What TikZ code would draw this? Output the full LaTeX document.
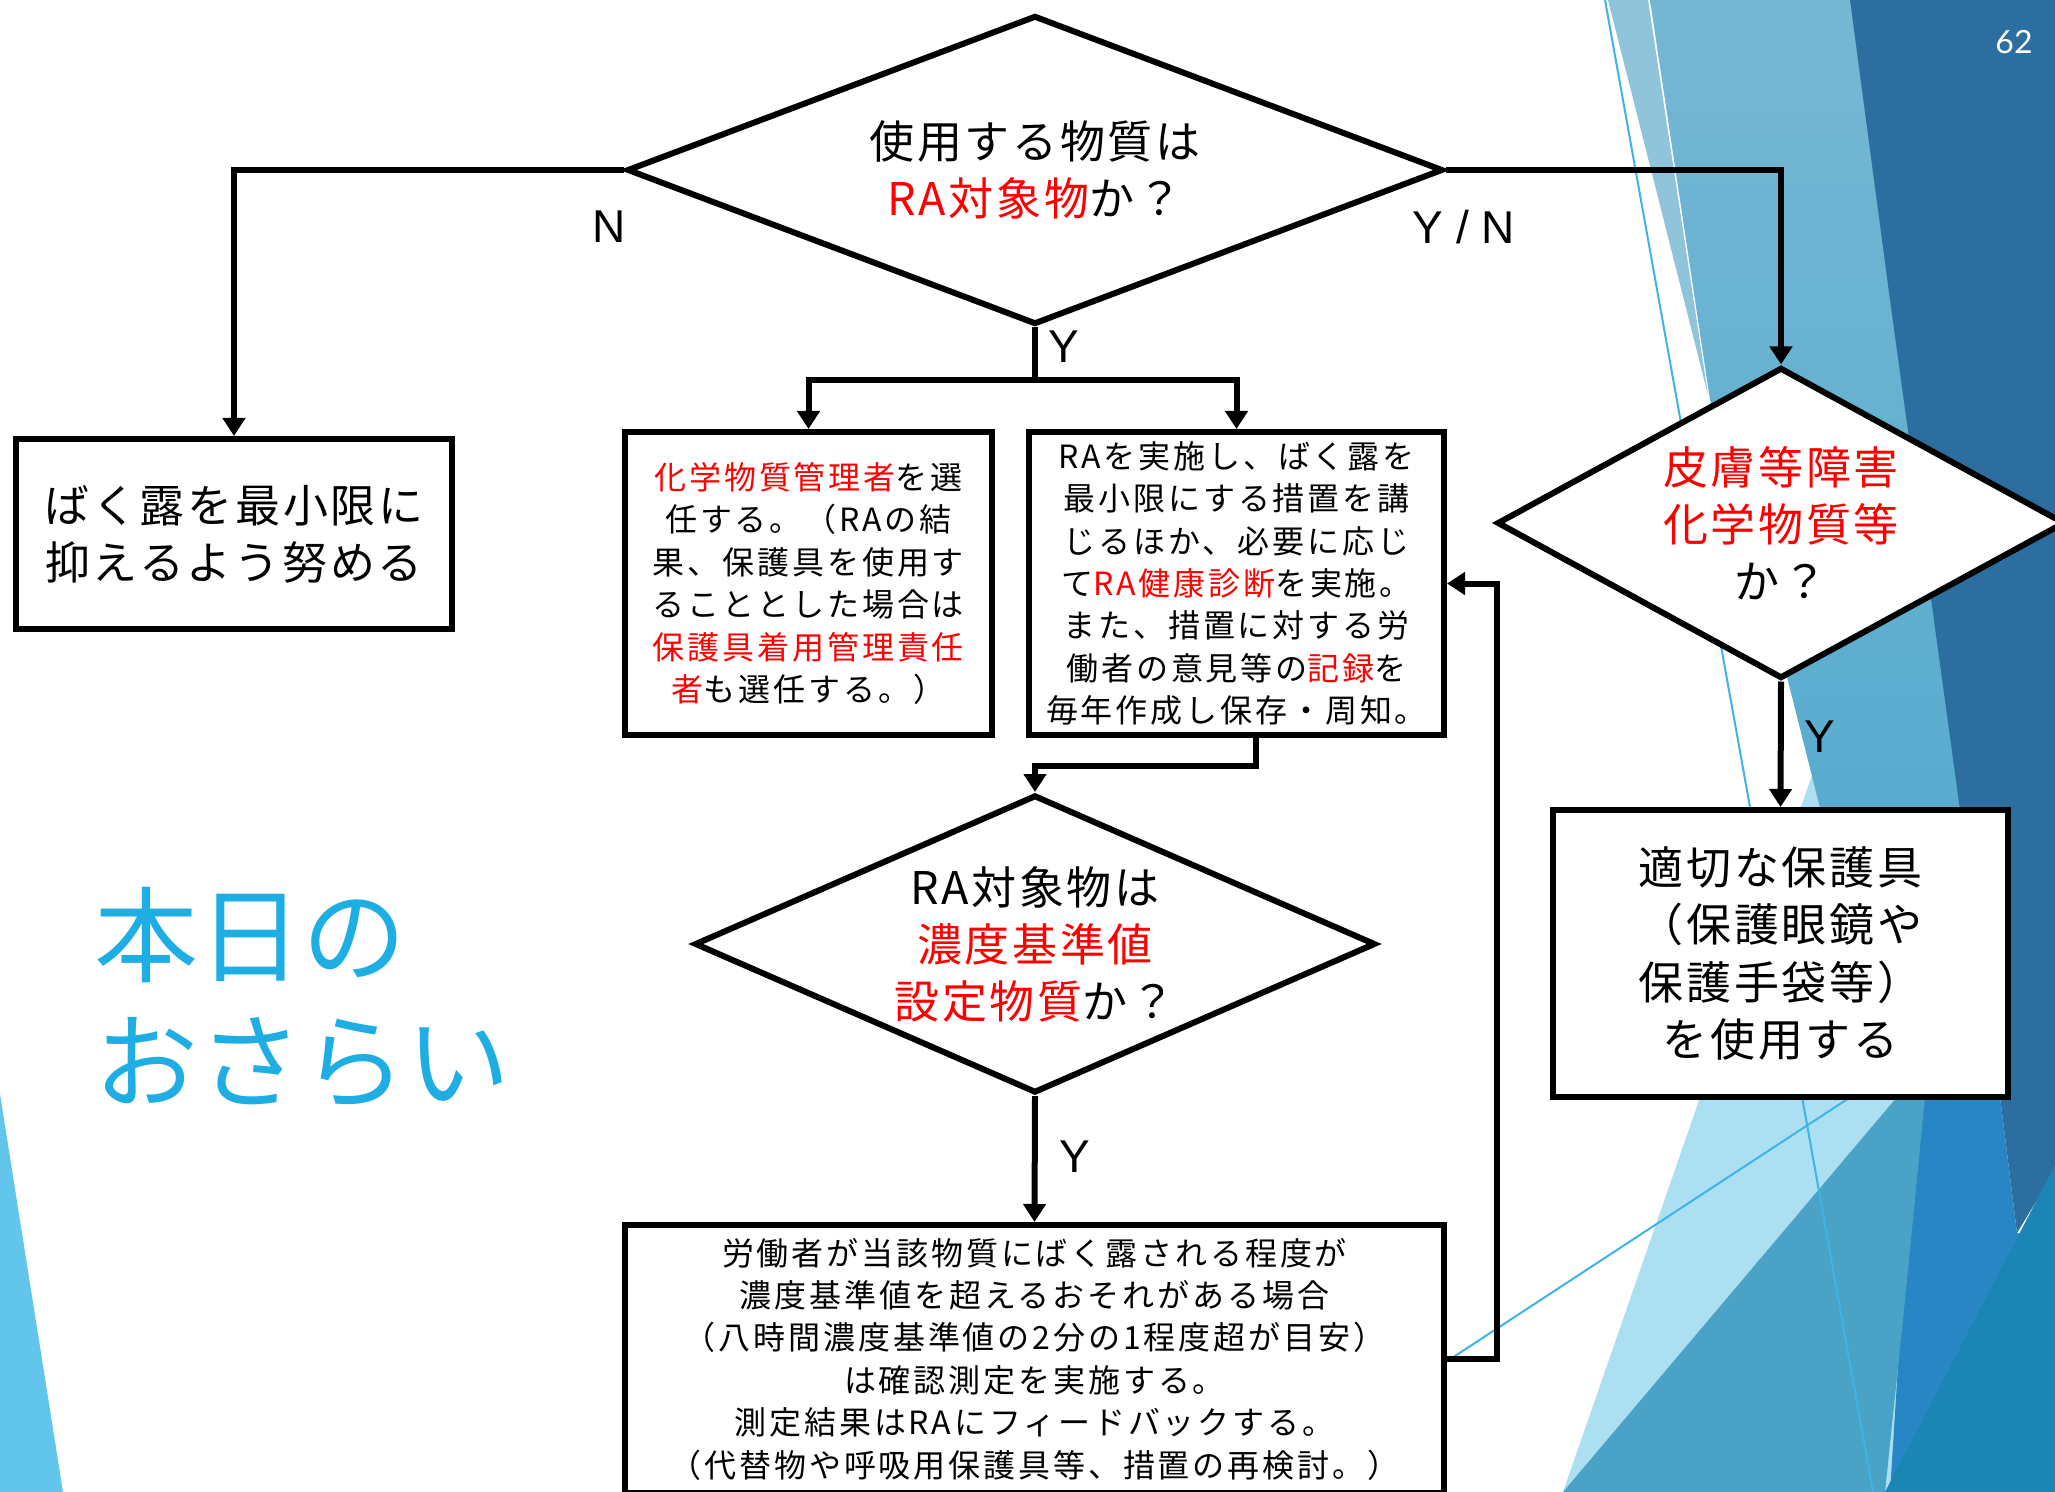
\documentclass[tikz,border=0pt]{standalone}
\usepackage{fontspec}
\setmainfont{Noto Sans CJK JP}
\newfontfamily\jpbig[LetterSpace=6]{Noto Sans CJK JP}
\newfontfamily\jpsmall[LetterSpace=9]{Noto Sans CJK JP}
\newfontfamily\labfont{Liberation Sans}
\newfontfamily\numfont{Lato}
\usetikzlibrary{shapes.geometric,arrows.meta,calc}
\definecolor{redtxt}{HTML}{FF0000}
\definecolor{cyantxt}{HTML}{1FAEE3}
\definecolor{cleft}{HTML}{62C5EC}
\definecolor{clband}{HTML}{ADDFF3}
\definecolor{cmedA}{HTML}{75B7D3}
\definecolor{cmedB}{HTML}{4FA8CE}
\definecolor{cltop}{HTML}{8FC4DB}
\definecolor{cdark}{HTML}{2C6E9F}
\definecolor{cbright}{HTML}{2986C4}
\definecolor{cteal}{HTML}{4AA3C6}
\definecolor{ctealB}{HTML}{1B86B6}
\definecolor{cthin}{HTML}{3FB3E6}
\newcommand{\rd}[1]{\textcolor{redtxt}{#1}}
\tikzset{
  flow/.style={line width=3pt, draw=black},
  arr/.style={line width=3pt, draw=black, -{Triangle[length=9pt,width=11pt]}},
  box/.style={draw=black, line width=3pt, fill=white, rectangle, align=center, inner sep=0pt},
  dia/.style={draw=black, line width=3pt, fill=white, diamond, align=center, inner sep=0pt},
  bigtxt/.style={font=\jpbig\fontsize{22.5}{28.5}\selectfont},
  smalltxt/.style={font=\jpsmall\fontsize{16}{21.2}\selectfont},
  lbl/.style={font=\labfont\fontsize{23}{23}\selectfont, inner sep=0pt},
}
\begin{document}
\begin{tikzpicture}[x=0.5pt,y=-0.5pt]
\useasboundingbox (0,0) rectangle (2055,1492);
% ---------- background ----------
\fill[white] (0,0) rectangle (2055,1492);
\fill[cleft] (0,1094) -- (63,1492) -- (0,1492) -- cycle;
\fill[clband] (1563,1492) -- (1845,680) -- (1960,1100) -- (1905,1492) -- cycle;
\shade[top color=cmedA, bottom color=cmedB] (1650,0) -- (2055,0) -- (2055,1097) -- (1895,1097) -- (1820,808) -- (1787,677) -- (1710,400) -- cycle;
\fill[cltop] (1608,0) -- (1648,0) -- (1708,395) -- cycle;
\fill[cdark] (1850,0) -- (2055,0) -- (2055,1170) -- (2017,1233) -- (2000,1097) -- (1960,810) -- (1890,300) -- cycle;
\fill[cbright] (1915,1097) -- (2000,1097) -- (2017,1233) -- (2055,1240) -- (2055,1492) -- (1890,1492) -- cycle;
\fill[cteal] (1563,1492) -- (1897,1097) -- (1925,1097) -- (1905,1300) -- (1885,1492) -- cycle;
\fill[ctealB] (1885,1492) -- (2055,1165) -- (2055,1492) -- cycle;
\draw[cthin, line width=1pt] (1605,0) -- (1873,1492);
\draw[cthin, line width=1pt] (1400,1392) -- (1930,1045);
% ---------- texts outside flow ----------
\node[anchor=west, align=left, inner sep=0pt, text=cyantxt, font=\fontsize{52}{63}\selectfont] (title) at (94,997) {本日の\\おさらい};
\node[text=white, inner sep=0pt, font=\numfont\fontsize{16}{16}\selectfont] (pg) at (2014,42) {62};
% ---------- nodes ----------
\node[dia, bigtxt, aspect=2.6, minimum width=408pt, minimum height=154.5pt] (d1) at (1035,170) {使用する物質は\\\rd{RA対象物}か？};
\node[dia, bigtxt, aspect=1.8, minimum width=284pt, minimum height=155.5pt] (d2) at (1781,523) {\rd{皮膚等障害}\\\rd{化学物質等}\\か？};
\node[dia, bigtxt, aspect=2.2, minimum width=340.5pt, minimum height=149pt] (d3) at (1035,944) {RA対象物は\\\rd{濃度基準値}\\\rd{設定物質}か？};
\node[box, bigtxt, minimum width=218pt, minimum height=95pt] (b1) at (234,534) {ばく露を最小限に\\抑えるよう努める};
\node[box, smalltxt, minimum width=183.5pt, minimum height=151.5pt] (b2) at (808.5,583.5) {\rd{化学物質管理者}を選\\任する。（RAの結\\果、保護具を使用す\\ることとした場合は\\\rd{保護具着用管理責任}\\\rd{者}も選任する。）};
\node[box, smalltxt, minimum width=207.5pt, minimum height=151.5pt] (b3) at (1236.5,583.5) {RAを実施し、ばく露を\\最小限にする措置を講\\じるほか、必要に応じ\\て\rd{RA健康診断}を実施。\\また、措置に対する労\\働者の意見等の\rd{記録}を\\毎年作成し保存・周知。};
\node[box, font=\jpbig\fontsize{22.5}{28.8}\selectfont, minimum width=227.5pt, minimum height=143.5pt] (b4) at (1780.5,953.5) {適切な保護具\\（保護眼鏡や\\保護手袋等）\\を使用する};
\node[box, smalltxt, minimum width=409.5pt, minimum height=134pt] (b5) at (1034.5,1359) {労働者が当該物質にばく露される程度が\\濃度基準値を超えるおそれがある場合\\（八時間濃度基準値の2分の1程度超が目安）\\は確認測定を実施する。\\測定結果はRAにフィードバックする。\\（代替物や呼吸用保護具等、措置の再検討。）};
\coordinate (sp) at (1035,380);
% ---------- connectors ----------
\draw[arr] (d1.west) -| (b1.north);
\draw[arr] (d1.east) -| (d2.north);
\draw[flow] (d1.south) -- (sp);
\draw[arr] (sp) -| (b2.north);
\draw[arr] (sp) -| (b3.north);
\draw[arr] ([xshift=9.5pt]b3.south) -- ++(0,28) -| (d3.north);
\draw[arr] (d3.south) -- (b5.north);
\draw[arr] (b5.east) -- ++(50,0) |- (b3.east);
\draw[arr] (d2.south) -- (b4.north);
% ---------- labels ----------
\node[lbl] (lN) at (609,227) {N};
\node[lbl] (lYN) at (1464,227) {Y / N};
\node[lbl] (lY1) at (1064,347) {Y};
\node[lbl] (lY2) at (1820,737) {Y};
\node[lbl] (lY3) at (1075,1157) {Y};
\end{tikzpicture}
\end{document}
